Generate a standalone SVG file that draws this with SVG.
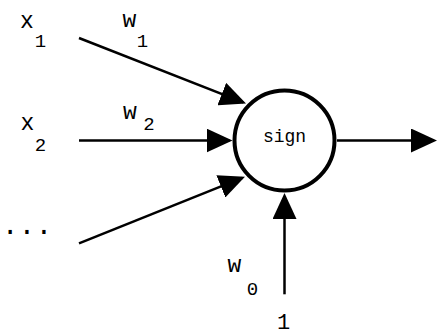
<svg xmlns="http://www.w3.org/2000/svg" width="439" height="336" viewBox="0 0 439 336">
<style>
.t{font-family:"Liberation Mono","Courier New",monospace;fill:#000;text-anchor:middle}
.big{font-size:23px}
.sub{font-size:19px}
.ln{stroke:#000;stroke-width:2.5;fill:none}
</style>
<defs>
<marker id="ah" markerUnits="userSpaceOnUse" markerWidth="26" markerHeight="24" refX="23" refY="12" orient="auto">
<path d="M0,0 L26,12 L0,24 z" fill="#000"/>
</marker>
</defs>
<rect width="439" height="336" fill="#fff"/>
<g id="connectors">
<line class="ln" x1="79" y1="38" x2="243.2" y2="102.4" marker-end="url(#ah)"/>
<line class="ln" x1="79" y1="140.5" x2="229.5" y2="140.5" marker-end="url(#ah)"/>
<line class="ln" x1="79" y1="243.3" x2="242.2" y2="177.8" marker-end="url(#ah)"/>
<line class="ln" x1="337" y1="140.5" x2="434" y2="140.5" marker-end="url(#ah)"/>
<line class="ln" x1="284.5" y1="294.3" x2="284.5" y2="196" marker-end="url(#ah)"/>
</g>
<g id="sign">
<circle cx="284.5" cy="140.5" r="50" fill="#fff" stroke="#000" stroke-width="4"/>
<text class="t" x="284.5" y="142" font-size="18">sign</text>
</g>
<g id="x1">
<text class="t big" x="27" y="28">x</text>
<text class="t sub" x="40.5" y="47">1</text>
</g>
<g id="w1">
<text class="t big" x="129.5" y="27">w</text>
<text class="t sub" x="142.5" y="47">1</text>
</g>
<g id="x2">
<text class="t big" x="27.5" y="130">x</text>
<text class="t sub" x="40.5" y="151">2</text>
</g>
<g id="w2">
<text class="t big" x="130" y="119">w</text>
<text class="t sub" x="149" y="130">2</text>
</g>
<g id="dots">
<text class="t" x="27" y="233.5" font-size="28">...</text>
</g>
<g id="w0">
<text class="t big" x="234.5" y="272">w</text>
<text class="t sub" x="252.5" y="295">0</text>
</g>
<g id="one">
<text class="t" x="283.5" y="329" font-size="22">1</text>
</g>
</svg>
